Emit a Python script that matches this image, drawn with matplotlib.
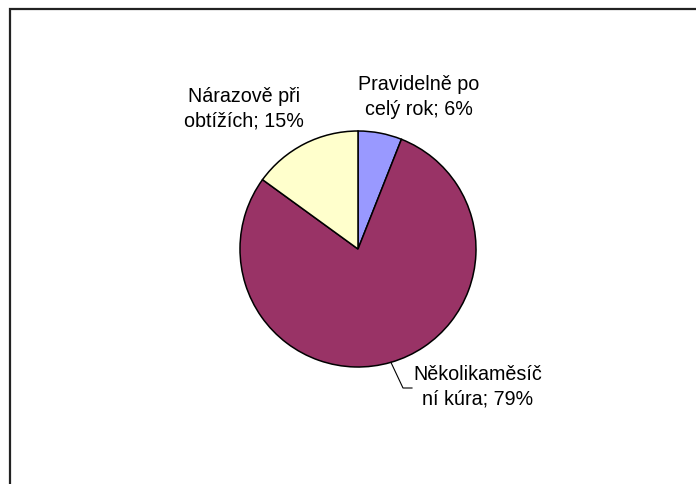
import numpy as np
import matplotlib.pyplot as plt
from matplotlib.patches import Rectangle

# Jak často užíváte přípravek
categories = ["Pravidelně po\ncelý rok", "Několikaměsíč\nní kúra", "Nárazově při\nobtížích"]
shares = [6, 79, 15]
colors = ["#9999FF", "#993366", "#FFFFCC"]

W, H = 696, 485
CX, CY, R = 358, H - 250, 118

plt.rcParams["font.family"] = ["Liberation Sans", "DejaVu Sans"]

fig = plt.figure(figsize=(W / 100, H / 100), dpi=100)
ax = fig.add_axes([0, 0, 1, 1])

# chart area border (only left and top edges fall inside the image)
fig.patches.append(Rectangle((10, -20), W, H - 10 + 20, transform=None,
                             fill=False, edgecolor="#222222", linewidth=1.6))

wedges, _ = ax.pie(shares, colors=colors, startangle=90, counterclock=False,
                   center=(CX, CY), radius=R, frame=True,
                   wedgeprops=dict(edgecolor="black", linewidth=1.1))
ax.set_xlim(0, W)
ax.set_ylim(0, H)
ax.set_aspect("equal")
ax.axis("off")

# label anchors (pixel layout), one per slice
label_pos = [(419, 97), (478, 387), (244, 109)]
for w, cat, val, (lx, ly) in zip(wedges, categories, shares, label_pos):
    ax.text(lx, H - ly, f"{cat}; {val}%", ha="center", va="center",
            fontsize=14.2, linespacing=1.38, color="black")

# leader line for the large slice
w = wedges[1]
mid = np.deg2rad((w.theta1 + w.theta2) / 2)
x0, y0 = CX + R * np.cos(mid), CY + R * np.sin(mid)
ax.plot([x0, 403, 412], [y0, H - 389, H - 389], color="black", linewidth=0.8)

fig.savefig("out.png", dpi=100)
